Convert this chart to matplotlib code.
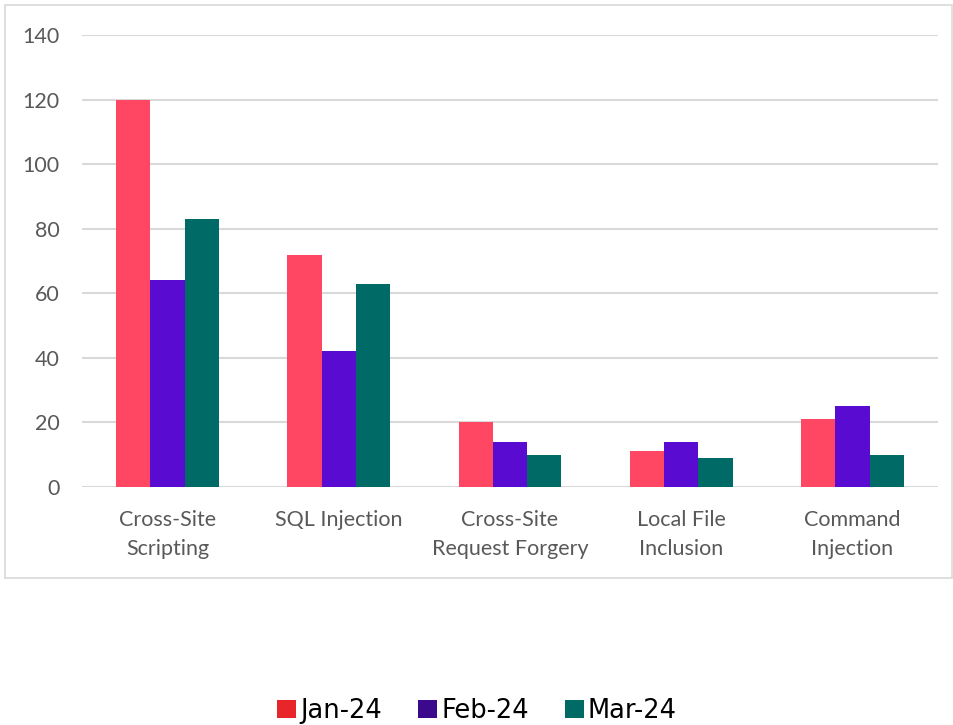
import matplotlib
matplotlib.use("Agg")
import matplotlib.pyplot as plt
from matplotlib.patches import Patch, Rectangle
import numpy as np

categories = ["Cross-Site\nScripting", "SQL Injection", "Cross-Site\nRequest Forgery",
              "Local File\nInclusion", "Command\nInjection"]
series_names = ["Jan-24", "Feb-24", "Mar-24"]
jan = [120, 72, 20, 11, 21]
feb = [64, 42, 14, 14, 25]
mar = [83, 63, 10, 9, 10]
yticks = [0, 20, 40, 60, 80, 100, 120, 140]

bar_colors = ["#FF4763", "#5A0BD2", "#006A66"]
legend_colors = ["#E8262A", "#3B0A8C", "#006A64"]

fig = plt.figure(figsize=(9.54, 7.25), dpi=100)
fig.patches.append(Rectangle((5/954, 1-578/725), 947/954, 573/725, transform=fig.transFigure,
                             fill=False, edgecolor="#D9D9D9", linewidth=1.2))
ax = fig.add_axes([82/954, 1-487/725, 856/954, 452/725])

x = np.arange(len(categories))
w = 0.2
for i, vals in enumerate([jan, feb, mar]):
    ax.bar(x + (i-1)*w, vals, width=w, color=bar_colors[i], zorder=3)

ax.set_xlim(-0.5, len(categories)-0.5)
ax.set_ylim(0, 140)
ax.set_yticks(yticks)
ax.yaxis.grid(True, color="#D9D9D9", linewidth=1.5, zorder=0)
ax.set_axisbelow(True)
for s in ax.spines.values():
    s.set_visible(False)
ax.tick_params(axis="both", length=0, colors="#595959", labelsize=15.5)
ax.tick_params(axis="y", pad=16)
ax.tick_params(axis="x", pad=16.5)
ax.set_xticks(x)
ax.set_xticklabels(categories, linespacing=1.55)
for lab in ax.get_xticklabels() + ax.get_yticklabels():
    lab.set_family("Lato")
    lab.set_color("#595959")

handles = [Patch(facecolor=c, edgecolor="none") for c in legend_colors]
fig.legend(handles, series_names, loc="center", bbox_to_anchor=(0.5, 1-711/725), ncol=3,
           frameon=False, prop={"family": "DejaVu Sans", "size": 18.5},
           handlelength=0.75, handleheight=0.75, handletextpad=0.15, columnspacing=1.4)

fig.savefig("out.png", dpi=100)
